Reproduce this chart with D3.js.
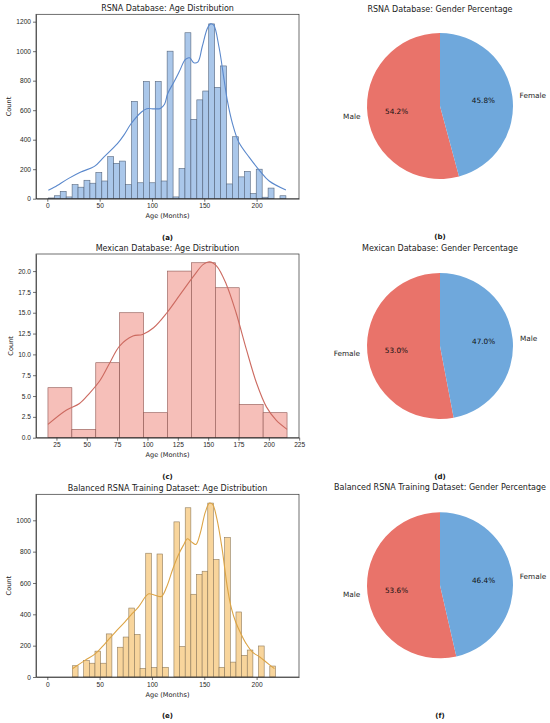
<!DOCTYPE html>
<html>
<head>
<meta charset="utf-8">
<script src="https://cdn.jsdelivr.net/npm/d3@7/dist/d3.min.js"></script>
<style>
  html, body { margin: 0; padding: 0; background: #fff; }
  svg { display: block; font-family: "DejaVu Sans", sans-serif; }
  .axis text { font-size: 6.6px; fill: #262626; }
  .axis path, .axis line { stroke: #333; stroke-width: 0.7; }
</style>
</head>
<body>
<div id="chart"></div>
<script>
// === Age histograms (bin counts) + KDE curves, gender pies ===

// RSNA database: 40 bins between min and max age
var rsnaAgeRange = [1, 228];
var rsnaCounts = [5, 20, 50, 12, 95, 78, 125, 105, 178, 120,
                  285, 240, 255, 95, 660, 108, 795, 108, 795, 120,
                  1000, 12, 205, 1125, 538, 670, 730, 1185, 755, 900,
                  100, 420, 148, 185, 35, 200, 10, 72, 0, 20];
var rsnaKde = [[1, 58], [7, 79], [20, 136], [32, 181], [45, 219], [54, 282], [67, 373],
               [73, 429], [80, 508], [90, 588], [95, 610], [102, 609], [108, 612], [112, 640],
               [115, 712], [121, 791], [126, 860], [132, 944], [136, 955], [140, 921],
               [144, 928], [148, 1030], [153, 1155], [156, 1185], [159, 1176], [164, 1030],
               [169, 803], [172, 666], [177, 507], [183, 382], [193, 280], [203, 189],
               [212, 120], [228, 59]];

// Mexican database: 10 bins
var mexAgeRange = [18, 215];
var mexCounts = [6, 1, 9, 15, 3, 20, 21, 18, 4, 3];
var mexKde = [[18, 1.6], [33, 3.3], [44, 4.1], [52, 5.3], [61, 6.9], [69, 9.0], [77, 11.0],
              [88, 12.2], [96, 12.4], [105, 13.2], [116, 15.0], [127, 17.2], [138, 19.4],
              [146, 20.8], [151, 21.1], [157, 20.6], [165, 18.4], [173, 15.0], [181.5, 10.6],
              [190, 6.5], [198, 3.7], [206, 2.1], [215, 1.0]];

// Balanced RSNA training dataset: 36 bins
var balAgeRange = [24, 218];
var balCounts = [72, 0, 105, 88, 165, 88, 275, 0, 190, 255,
                 440, 272, 55, 790, 60, 785, 62, 0, 990, 195,
                 1080, 528, 655, 675, 1110, 750, 62, 890, 95, 415,
                 138, 172, 0, 198, 0, 70];
var balKde = [[24, 53], [36, 106], [46, 149], [55, 212], [65, 287], [74, 350], [81, 404],
              [87, 446], [94, 514], [97, 531], [103, 522], [109, 514], [114, 574], [120, 691],
              [125, 776], [130, 840], [134, 882], [138, 861], [142, 846], [146, 914],
              [151, 1052], [155, 1110], [158, 1101], [162, 1010], [167, 819], [172, 574],
              [176, 436], [180, 351], [185, 276], [190, 213], [196, 159], [203, 128],
              [209, 96], [217, 53]];

var rsnaXTicks = [0, 50, 100, 150, 200];
var rsnaYTicks = [0, 200, 400, 600, 800, 1000, 1200];
var mexXTicks = [25, 50, 75, 100, 125, 150, 175, 200, 225];
var mexYTicks = [0, 2.5, 5, 7.5, 10, 12.5, 15, 17.5, 20];
var balYTicks = [0, 200, 400, 600, 800, 1000];

// Gender splits (percent)
var rsnaGenderLabels = ['Male', 'Female'];
var rsnaGender = [54.2, 45.8];
var mexGenderLabels = ['Female', 'Male'];
var mexGender = [53.0, 47.0];
var balGenderLabels = ['Male', 'Female'];
var balGender = [53.6, 46.4];

var PIE_COLORS = ['#e9736a', '#6fa8dc'];

var W = 550, H = 723;
var svg = d3.select('#chart').append('svg').attr('width', W).attr('height', H);
svg.append('rect').attr('width', W).attr('height', H).attr('fill', '#fff');

function drawHist(opt) {
    var g = svg.append('g');
    var x = d3.scaleLinear().domain(opt.xDomain).range([36, 299]);
    var y = d3.scaleLinear().domain(opt.yDomain).range([opt.bottom, opt.top]);

    var n = opt.counts.length;
    var step = (opt.range[1] - opt.range[0]) / n;
    var bins = opt.counts.map(function(c, i) {
        return { x0: opt.range[0] + i * step, x1: opt.range[0] + (i + 1) * step, count: c };
    });

    g.append('g').selectAll('rect').data(bins).enter().append('rect')
        .attr('x', function(d) { return x(d.x0); })
        .attr('width', function(d) { return x(d.x1) - x(d.x0); })
        .attr('y', function(d) { return y(d.count); })
        .attr('height', function(d) { return y(0) - y(d.count); })
        .attr('fill', opt.fill)
        .attr('stroke', opt.edge)
        .attr('stroke-width', 0.6);

    var line = d3.line()
        .x(function(d) { return x(d[0]); })
        .y(function(d) { return y(d[1]); })
        .curve(d3.curveCatmullRom);
    g.append('path').datum(opt.kde)
        .attr('d', line)
        .attr('fill', 'none')
        .attr('stroke', opt.line)
        .attr('stroke-width', 1.1);

    // Axes
    g.append('g').attr('class', 'axis')
        .attr('transform', 'translate(0,' + opt.bottom + ')')
        .call(d3.axisBottom(x).tickValues(opt.xTicks).tickSize(3).tickPadding(2).tickSizeOuter(0));
    g.append('g').attr('class', 'axis')
        .attr('transform', 'translate(36,0)')
        .call(d3.axisLeft(y).tickValues(opt.yTicks).tickFormat(opt.yFormat)
            .tickSize(3).tickPadding(2).tickSizeOuter(0));

    // Frame
    g.append('rect')
        .attr('x', 36).attr('y', opt.top)
        .attr('width', 263).attr('height', opt.bottom - opt.top)
        .attr('fill', 'none').attr('stroke', '#333').attr('stroke-width', 0.7);

    g.append('text').attr('x', 167.5).attr('y', opt.top - 3.5)
        .attr('text-anchor', 'middle').attr('font-size', '8px').attr('fill', '#222')
        .text(opt.title);
    g.append('text').attr('x', 167.5).attr('y', opt.bottom + 19.5)
        .attr('text-anchor', 'middle').attr('font-size', '6.6px').attr('fill', '#222')
        .text('Age (Months)');
    var cy = (opt.top + opt.bottom) / 2;
    g.append('text')
        .attr('transform', 'translate(' + opt.yLabelX + ',' + cy + ') rotate(-90)')
        .attr('text-anchor', 'middle').attr('font-size', '6.6px').attr('fill', '#222')
        .text('Count');
    g.append('text').attr('x', 167.5).attr('y', opt.tag[1])
        .attr('text-anchor', 'middle').attr('font-size', '7px').attr('font-weight', 'bold')
        .attr('fill', '#111').text(opt.tag[0]);
}

function drawPie(opt) {
    var cx = 440, r = 73;
    var g = svg.append('g').attr('transform', 'translate(' + cx + ',' + opt.cy + ')');
    var data = opt.values.map(function(v, i) { return { label: opt.labels[i], value: v, i: i }; });
    // matplotlib style: start at the top, run counter-clockwise
    var pie = d3.pie().sort(null).value(function(d) { return d.value; })
        .startAngle(0).endAngle(-2 * Math.PI);
    var arcs = pie(data);
    var arc = d3.arc().innerRadius(0).outerRadius(r);

    g.selectAll('path').data(arcs).enter().append('path')
        .attr('d', arc)
        .attr('fill', function(d) { return PIE_COLORS[d.data.i]; });

    arcs.forEach(function(a) {
        var mid = (a.startAngle + a.endAngle) / 2;
        var sx = Math.sin(mid), sy = -Math.cos(mid);
        g.append('text')
            .attr('x', sx * r * 1.1).attr('y', sy * r * 1.1)
            .attr('dy', '0.35em')
            .attr('text-anchor', sx < 0 ? 'end' : 'start')
            .attr('font-size', '7.3px').attr('fill', '#222')
            .text(a.data.label);
        g.append('text')
            .attr('x', sx * r * 0.6).attr('y', sy * r * 0.6)
            .attr('dy', '0.35em')
            .attr('text-anchor', 'middle')
            .attr('font-size', '7.3px').attr('fill', '#111')
            .text(a.data.value.toFixed(1) + '%');
    });

    svg.append('text').attr('x', cx).attr('y', opt.titleY)
        .attr('text-anchor', 'middle').attr('font-size', '8px').attr('fill', '#222')
        .text(opt.title);
    svg.append('text').attr('x', cx).attr('y', opt.tag[1])
        .attr('text-anchor', 'middle').attr('font-size', '7px').attr('font-weight', 'bold')
        .attr('fill', '#111').text(opt.tag[0]);
}

drawHist({
    title: 'RSNA Database: Age Distribution', top: 14.3, bottom: 198.7,
    xDomain: [-10.8, 240.5], yDomain: [0, 1250], range: rsnaAgeRange,
    counts: rsnaCounts, kde: rsnaKde, xTicks: rsnaXTicks, yTicks: rsnaYTicks,
    yFormat: d3.format('d'), yLabelX: 11,
    fill: '#aac7ea', edge: '#55657c', line: '#5a88cc', tag: ['(a)', 239.5]
});
drawHist({
    title: 'Mexican Database: Age Distribution', top: 254, bottom: 437.7,
    xDomain: [8.15, 224.85], yDomain: [0, 22.05], range: mexAgeRange,
    counts: mexCounts, kde: mexKde, xTicks: mexXTicks, yTicks: mexYTicks,
    yFormat: d3.format('.1f'), yLabelX: 12.5,
    fill: '#f6bfb9', edge: '#8e5550', line: '#cc6a60', tag: ['(c)', 478.5]
});
drawHist({
    title: 'Balanced RSNA Training Dataset: Age Distribution', top: 494.3, bottom: 677,
    xDomain: [-10.8, 240.5], yDomain: [0, 1166], range: balAgeRange,
    counts: balCounts, kde: balKde, xTicks: rsnaXTicks, yTicks: balYTicks,
    yFormat: d3.format('d'), yLabelX: 11,
    fill: '#f8d59c', edge: '#8f7b5c', line: '#dca445', tag: ['(e)', 717.5]
});

drawPie({ title: 'RSNA Database: Gender Percentage', cy: 106, titleY: 11.9,
    labels: rsnaGenderLabels, values: rsnaGender, tag: ['(b)', 239.2] });
drawPie({ title: 'Mexican Database: Gender Percentage', cy: 346, titleY: 251.2,
    labels: mexGenderLabels, values: mexGender, tag: ['(d)', 478.5] });
drawPie({ title: 'Balanced RSNA Training Dataset: Gender Percentage', cy: 585.3, titleY: 490.2,
    labels: balGenderLabels, values: balGender, tag: ['(f)', 718] });
</script>
</body>
</html>
